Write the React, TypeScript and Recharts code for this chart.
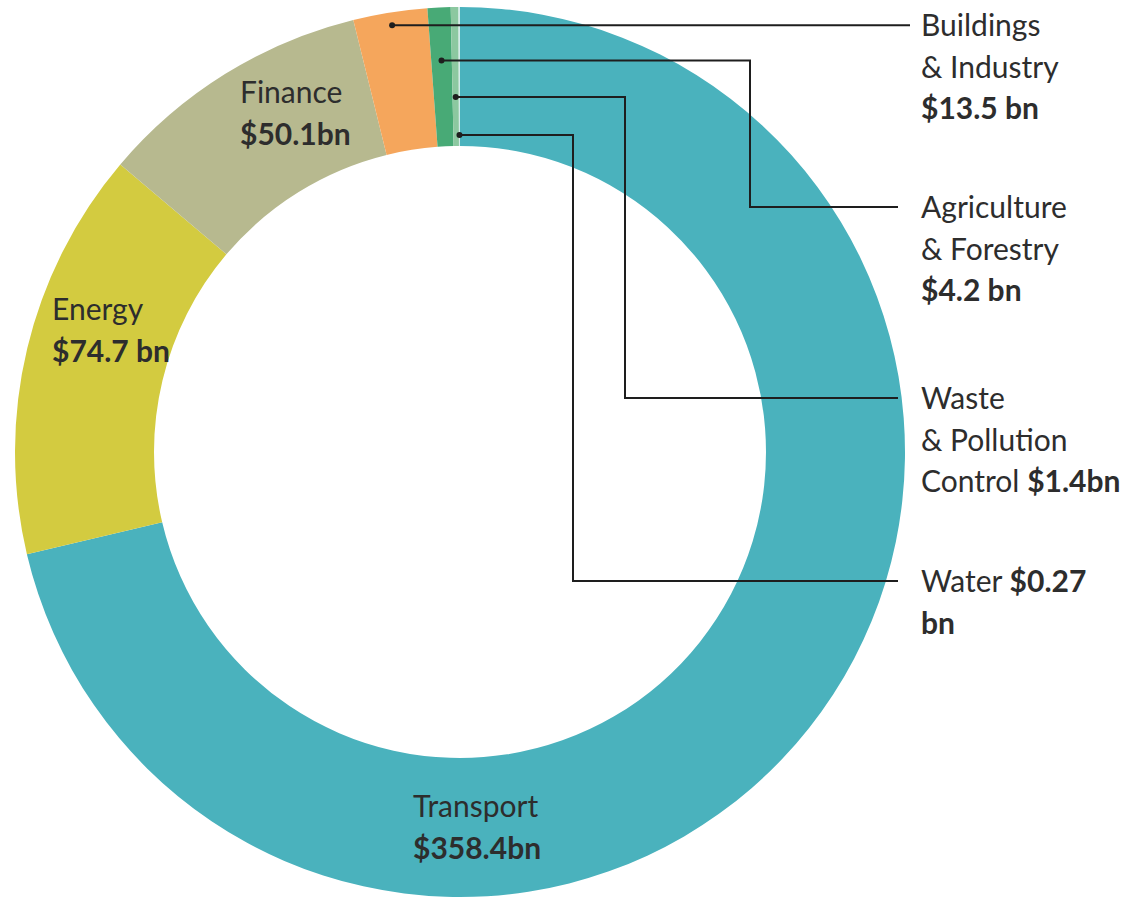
import React from "react";
import { PieChart, Pie, Cell } from "recharts";

const categories = [
  "Transport",
  "Energy",
  "Finance",
  "Buildings & Industry",
  "Agriculture & Forestry",
  "Waste & Pollution Control",
  "Water",
];
const values = [358.4, 74.7, 50.1, 13.5, 4.2, 1.4, 0.27];
const colors = ["#4ab2bd", "#d3cb40", "#b7b98f", "#f5a65c", "#48aa76", "#8cc8a0", "#d3ece9"];

// label text lines per slice: each line is a list of [text, bold]
const labelLines: [string, boolean][][][] = [
  [[["Transport", false]], [["$358.4bn", true]]],
  [[["Energy", false]], [["$74.7 bn", true]]],
  [[["Finance", false]], [["$50.1bn", true]]],
  [[["Buildings", false]], [["& Industry", false]], [["$13.5 bn", true]]],
  [[["Agriculture", false]], [["& Forestry", false]], [["$4.2 bn", true]]],
  [[["Waste", false]], [["& Pollution", false]], [["Control ", false], ["$1.4bn", true]]],
  [[["Water ", false], ["$0.27", true]], [["bn", true]]],
];

// layout (offsets relative to the pie centre)
const inside: Record<number, { dx: number; dy: number }> = {
  0: { dx: -47, dy: 365 },
  1: { dx: -408, dy: -132 },
  2: { dx: -220, dy: -349 },
};
const callouts: Record<number, { r: number; vx: number | null; by: number; endDx: number }> = {
  3: { r: 432, vx: null, by: -417, endDx: 450 },
  4: { r: 392, vx: 290, by: -234, endDx: 438 },
  5: { r: 355, vx: 165, by: -43, endDx: 438 },
  6: { r: 317, vx: 113, by: 140, endDx: 438 },
};
const TEXT_DX = 461;
const LINE_H = 41.5;
const FONT = "Lato, 'Open Sans', sans-serif";
const TEXT_COLOR = "#2d2d2d";

const data = categories.map((name, i) => ({ name, value: values[i] }));

function renderLines(idx: number, x: number, y: number) {
  return (
    <text x={x} y={y} fontFamily={FONT} fontSize={30} fill={TEXT_COLOR}>
      {labelLines[idx].map((line, li) => (
        <tspan key={li} x={x} y={y + li * LINE_H}>
          {line.map(([t, b], si) => (
            <tspan key={si} fontWeight={b ? 700 : 400} style={{ whiteSpace: "pre" }}>
              {t}
            </tspan>
          ))}
        </tspan>
      ))}
    </text>
  );
}

function renderLabel(props: any) {
  const { cx, cy, midAngle, index } = props;
  if (inside[index]) {
    const p = inside[index];
    return <g key={`l${index}`}>{renderLines(index, cx + p.dx, cy + p.dy)}</g>;
  }
  const c = callouts[index];
  if (!c) return null;
  const rad = (-midAngle * Math.PI) / 180;
  const sx = cx + c.r * Math.cos(rad);
  const sy = cy + c.r * Math.sin(rad);
  let pts: string;
  let baseY: number;
  if (c.vx === null) {
    baseY = sy + 11;
    pts = `${sx},${sy} ${cx + c.endDx},${sy}`;
  } else {
    baseY = cy + c.by;
    const ly = baseY - 11;
    pts = `${sx},${sy} ${cx + c.vx},${sy} ${cx + c.vx},${ly} ${cx + c.endDx},${ly}`;
  }
  return (
    <g key={`l${index}`}>
      <polyline points={pts} fill="none" stroke="#1e1e1e" strokeWidth={2} />
      <circle cx={sx} cy={sy} r={3} fill="#1e1e1e" />
      {renderLines(index, cx + TEXT_DX, baseY)}
    </g>
  );
}

export default function App() {
  return (
    <div style={{ position: "absolute", left: 0, top: 0, width: 1137, height: 898, background: "#fff" }}>
      <PieChart width={1137} height={898} margin={{ top: 0, right: 0, bottom: 0, left: 0 }}>
        <Pie
          data={data}
          dataKey="value"
          nameKey="name"
          cx={460}
          cy={452}
          innerRadius={306}
          outerRadius={445}
          startAngle={90}
          endAngle={-270}
          stroke="none"
          label={renderLabel}
          labelLine={false}
          isAnimationActive={false}
        >
          {data.map((d, i) => (
            <Cell key={d.name} fill={colors[i]} />
          ))}
        </Pie>
      </PieChart>
    </div>
  );
}
